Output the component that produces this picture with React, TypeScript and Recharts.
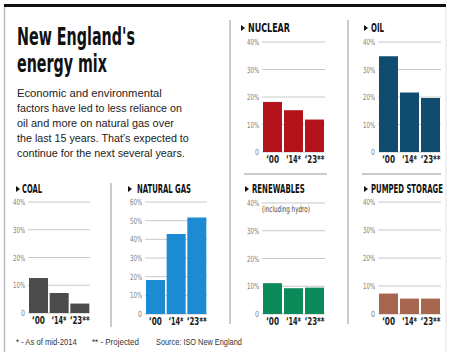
import React, { useLayoutEffect, useRef, useState } from 'react';
import { BarChart, Bar, XAxis, YAxis, CartesianGrid } from 'recharts';

// shares of New England's energy mix, in percent
const years = ['‘00', '‘14*', '‘23**'];
const nuclear = [18.2, 15.2, 11.8];
const oil = [34.8, 21.6, 19.6];
const coal = [12.6, 7.2, 3.4];
const naturalGas = [18.2, 42.8, 51.7];
const renewables = [11.1, 9.3, 9.5];
const pumpedStorage = [7.3, 5.5, 5.5];

const ticks40 = [0, 10, 20, 30, 40];
const ticks60 = [0, 10, 20, 30, 40, 50, 60];

const descLines = [
    'Economic and environmental',
    'factors have led to less reliance on',
    'oil and more on natural gas over',
    'the last 15 years. That’s expected to',
    'continue for the next several years.',
];
const descWidths = [145, 165, 157, 172, 168];

const NARROW = '"Liberation Sans Narrow", "DejaVu Sans Condensed", "Liberation Sans", sans-serif';
const BODY = '"Liberation Sans", Arial, sans-serif';

const yearWidths = [13, 15, 20];

// svg text squeezed horizontally to a given width (the original uses a condensed face)
function FitText({ x, y, width, children, ...rest }) {
    const ref = useRef(null);
    const [sx, setSx] = useState(1);
    useLayoutEffect(() => {
        const w = ref.current ? ref.current.getComputedTextLength() : 0;
        if (w > 0) setSx(width / w);
    }, [width, children]);
    return (
        <text ref={ref} transform={`translate(${x} ${y}) scale(${sx} 1)`} {...rest}>
            {children}
        </text>
    );
}

function YearTick({ x, y, payload, index }) {
    return (
        <FitText x={x} y={y + 8} width={yearWidths[index]} textAnchor="middle" fontFamily={NARROW} fontWeight={700} fontSize={11} fill="#1a1a1a">
            {payload.value}
        </FitText>
    );
}

function PctTick({ x, y, payload }) {
    const label = payload.value === 0 ? '0' : payload.value + '%';
    return (
        <FitText x={x} y={y + 3} width={payload.value === 0 ? 4 : 12} textAnchor="end" fontFamily={NARROW} fontSize={8.5} fill="#808080">
            {label}
        </FitText>
    );
}

// box = [plotLeft, plotRight, plotTop, plotBottom]
function MiniBars({ values, color, ticks, box }) {
    const [pl, pr, pt, pb] = box;
    const yw = 30;
    const pad = 6;
    const left = pl - yw;
    const top = pt - 6;
    const width = pr - left + pad;
    const height = pb - top + 20;
    const data = years.map((y, i) => ({ year: y, value: values[i] }));
    return (
        <div style={{ position: 'absolute', left, top, width, height }}>
            <BarChart
                width={width}
                height={height}
                data={data}
                margin={{ top: 6, right: pad, bottom: 0, left: 0 }}
                barCategoryGap={1}
            >
                <CartesianGrid vertical={false} stroke="#c8c8c8" />
                <XAxis
                    dataKey="year"
                    height={20}
                    axisLine={false}
                    tickLine={false}
                    tickSize={0}
                    tickMargin={3}
                    interval={0}
                    tick={YearTick}
                />
                <YAxis
                    width={yw}
                    domain={[0, ticks[ticks.length - 1]]}
                    ticks={ticks}
                    axisLine={false}
                    tickLine={false}
                    tickSize={0}
                    tickMargin={3}
                    interval={0}
                    tick={PctTick}
                />
                <Bar dataKey="value" fill={color} isAnimationActive={false} />
            </BarChart>
        </div>
    );
}

function PanelTitle({ x, tx, y, w, label }) {
    return (
        <g>
            <polygon points={`${x},${y - 7} ${x + 4},${y - 4} ${x},${y - 1}`} fill="#111" />
            <FitText x={tx} y={y} width={w} fontFamily={NARROW} fontWeight={700} fontSize={12} fill="#111">
                {label}
            </FitText>
        </g>
    );
}

export default function App() {
    return (
        <div style={{ position: 'absolute', left: 0, top: 0, width: 450, height: 352, background: '#fff', overflow: 'hidden' }}>
            <MiniBars values={nuclear} color="#b3141c" ticks={ticks40} box={[262, 325, 42, 152]} />
            <MiniBars values={oil} color="#0f4c6f" ticks={ticks40} box={[378, 441, 42, 152]} />
            <MiniBars values={coal} color="#4b4b4b" ticks={ticks40} box={[28, 90, 202, 313]} />
            <MiniBars values={naturalGas} color="#1c8bd3" ticks={ticks60} box={[145, 207, 202, 314]} />
            <MiniBars values={renewables} color="#0b8a5a" ticks={ticks40} box={[262, 325, 203, 314]} />
            <MiniBars values={pumpedStorage} color="#a7664f" ticks={ticks40} box={[378, 441, 202, 314]} />

            <svg width={450} height={352} style={{ position: 'absolute', left: 0, top: 0, pointerEvents: 'none' }}>
                {/* frame */}
                <rect x={4} y={4} width={442} height={3} fill="#111" />
                <line x1={4.5} y1={7} x2={4.5} y2={352} stroke="#bbb" strokeWidth={1.5} />
                <line x1={446} y1={7} x2={446} y2={352} stroke="#e2e2e2" strokeWidth={1} />

                {/* separators */}
                <line x1={230} y1={20} x2={230} y2={324} stroke="#b8b8b8" strokeWidth={1.5} />
                <line x1={348} y1={20} x2={348} y2={324} stroke="#b8b8b8" strokeWidth={1.5} />
                <line x1={111} y1={183} x2={111} y2={327} stroke="#b8b8b8" strokeWidth={1.5} />
                <line x1={244} y1={174} x2={327} y2={174} stroke="#b8b8b8" strokeWidth={1.5} />
                <line x1={362} y1={174} x2={441} y2={174} stroke="#b8b8b8" strokeWidth={1.5} />

                {/* headline */}
                <FitText x={17} y={45} width={118} fontFamily={NARROW} fontWeight={700} fontSize={24} fill="#111">
                    New England's
                </FitText>
                <FitText x={17} y={72} width={90} fontFamily={NARROW} fontWeight={700} fontSize={24} fill="#111">
                    energy mix
                </FitText>
                {descLines.map((l, i) => (
                    <FitText key={i} x={17} y={97 + i * 15} width={descWidths[i]} fontFamily={BODY} fontSize={11.5} fill="#222">
                        {l}
                    </FitText>
                ))}

                <PanelTitle x={241} tx={248} y={32} w={42} label="NUCLEAR" />
                <PanelTitle x={364} tx={371} y={32} w={13} label="OIL" />
                <PanelTitle x={16} tx={22} y={193} w={20} label="COAL" />
                <PanelTitle x={128} tx={137} y={193} w={54} label="NATURAL GAS" />
                <PanelTitle x={245} tx={252} y={193} w={53} label="RENEWABLES" />
                <PanelTitle x={364} tx={371} y={193} w={72} label="PUMPED STORAGE" />

                <FitText x={262} y={212} width={48} fontFamily={NARROW} fontSize={8.5} fill="#444">(including hydro)</FitText>

                {/* footnotes */}
                <FitText x={16} y={345} width={61} fontFamily={BODY} fontSize={8.5} fill="#333">* - As of mid-2014</FitText>
                <FitText x={92} y={345} width={47} fontFamily={BODY} fontSize={8.5} fill="#333">** - Projected</FitText>
                <FitText x={156} y={345} width={86} fontFamily={BODY} fontSize={8.5} fill="#333">Source: ISO New England</FitText>
            </svg>
        </div>
    );
}
